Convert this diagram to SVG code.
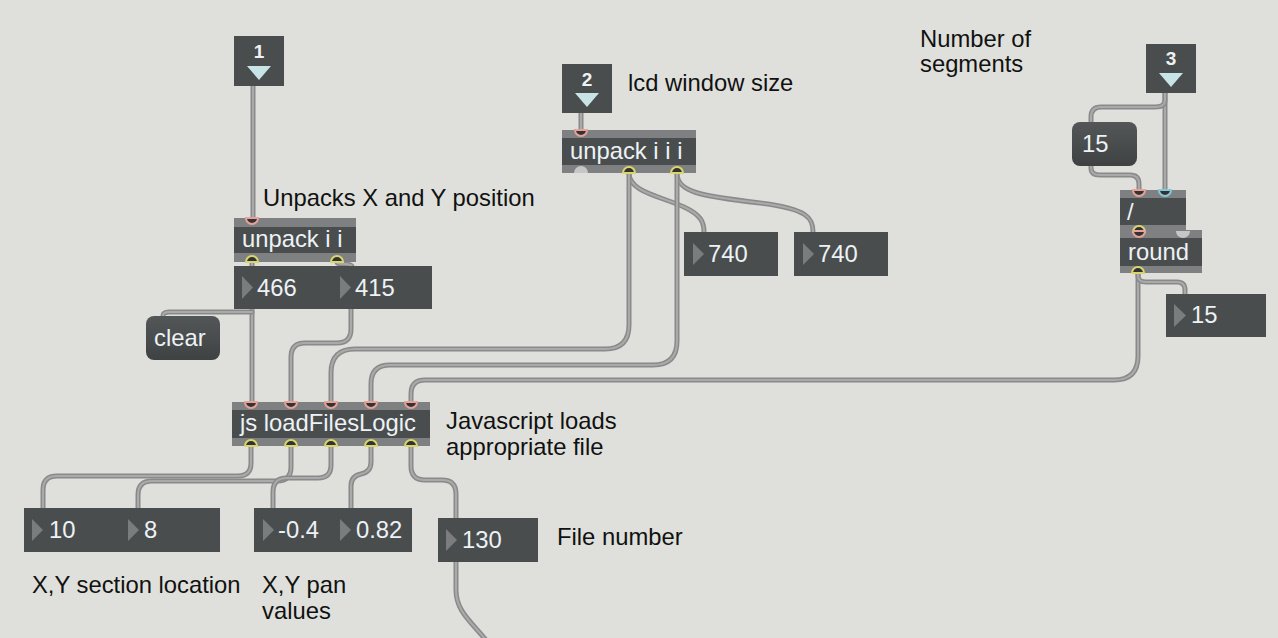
<svg xmlns="http://www.w3.org/2000/svg" xmlns:xlink="http://www.w3.org/1999/xlink" width="1278" height="638" viewBox="0 0 1278 638">
<style>
.obj{fill:#4a4d4d}
.bar{fill:#7f8082}
.msg{fill:url(#mg)}
.tri{fill:#7a7c7f}
.itri{fill:#c9e4e7}
.co{fill:none;stroke:#8a8a8a;stroke-width:5;stroke-linecap:round;stroke-linejoin:round}
.ci{fill:none;stroke:#aaaaaa;stroke-width:2;stroke-linecap:round;stroke-linejoin:round}
.lbl{font-family:"Liberation Sans",Arial,sans-serif;font-size:23.8px;fill:#111}
.w{font-family:"Liberation Sans",Arial,sans-serif;font-size:23.8px;fill:#ecf2f6}
.num{font-family:"Liberation Sans",Arial,sans-serif;font-size:19px;font-weight:bold;fill:#eef2f4;text-anchor:middle}
.hot{fill:#333;stroke:#e6a198;stroke-width:2}
.cold{fill:#333;stroke:#86c8d6;stroke-width:2}
.out{fill:#333;stroke:#d8d66c;stroke-width:2}
.free{fill:#c6c6c6}
</style>
<defs>
<linearGradient id="mg" x1="0" y1="0" x2="0" y2="1">
<stop offset="0" stop-color="#545757"/>
<stop offset="1" stop-color="#3f4242"/>
</linearGradient>
<path id="in" d="M-6,0 A6,6 0 0 0 6,0 Z"/>
<path id="ou" d="M-6,0 A6,6 0 0 1 6,0 Z"/>
<path id="c1" d="M253,86 V218"/>
<path id="c2" d="M252,262 V266"/>
<path id="c3" d="M337,262 C337,266 352,262 352,267"/>
<path id="c4" d="M252,309 V402"/>
<path id="c5" d="M252,312 H169 Q163,312 163,316"/>
<path id="c6" d="M351,309 V329 Q351,343 337,343 H305 Q291,343 291,357 V402"/>
<path id="c7" d="M581,113 V130"/>
<path id="c8" d="M629,173 C629,192 660,196 684,207 C701,215 704,222 704,232"/>
<path id="c9" d="M677,173 C677,192 700,196 760,203 C808,209 813,218 813,232"/>
<path id="c10" d="M629,173 V325 Q629,349 605,349 H355 Q331,349 331,373 V402"/>
<path id="c11" d="M677,173 V341 Q677,365 653,365 H390 Q371,365 371,384 V402"/>
<path id="c12" d="M1138,273 V356 Q1138,380 1114,380 H425 Q411,380 411,394 V402"/>
<path id="c13" d="M1138,273 V276 Q1138,282 1146,282 H1177 Q1185,282 1185,290 V294"/>
<path id="c14" d="M1165,93 V190"/>
<path id="c15" d="M1165,93 V100 Q1165,107 1155,107 H1101 Q1091,107 1091,117 V122"/>
<path id="c16" d="M1091,166 V168 Q1091,175 1100,175 H1130 Q1139,175 1139,184 V190"/>
<path id="c18" d="M251,446 V463 Q251,476 238,476 H57 Q43,476 43,490 V508"/>
<path id="c19" d="M291,446 V467 Q291,481 277,481 H152 Q138,481 138,495 V508"/>
<path id="c20" d="M331,446 V465 Q331,478 318,478 H287 Q273,478 273,492 V508"/>
<path id="c21" d="M371,446 V462 Q371,472 361,474 Q351,476 351,486 V508"/>
<path id="c22" d="M411,446 V466 Q411,480 425,480 H442 Q456,480 456,494 V518"/>
<path id="c23" d="M456,562 V590 C456,612 472,622 490,645"/>
</defs>
<rect width="1278" height="638" fill="#dfe0db"/>

<g id="connectors">
<use xlink:href="#c1" class="co"/><use xlink:href="#c1" class="ci"/>
<use xlink:href="#c2" class="co"/><use xlink:href="#c2" class="ci"/>
<use xlink:href="#c3" class="co"/><use xlink:href="#c3" class="ci"/>
<use xlink:href="#c4" class="co"/><use xlink:href="#c4" class="ci"/>
<use xlink:href="#c5" class="co"/><use xlink:href="#c5" class="ci"/>
<use xlink:href="#c6" class="co"/><use xlink:href="#c6" class="ci"/>
<use xlink:href="#c7" class="co"/><use xlink:href="#c7" class="ci"/>
<use xlink:href="#c8" class="co"/><use xlink:href="#c8" class="ci"/>
<use xlink:href="#c9" class="co"/><use xlink:href="#c9" class="ci"/>
<use xlink:href="#c10" class="co"/><use xlink:href="#c10" class="ci"/>
<use xlink:href="#c11" class="co"/><use xlink:href="#c11" class="ci"/>
<use xlink:href="#c12" class="co"/><use xlink:href="#c12" class="ci"/>
<use xlink:href="#c13" class="co"/><use xlink:href="#c13" class="ci"/>
<use xlink:href="#c14" class="co"/><use xlink:href="#c14" class="ci"/>
<use xlink:href="#c15" class="co"/><use xlink:href="#c15" class="ci"/>
<use xlink:href="#c16" class="co"/><use xlink:href="#c16" class="ci"/>
<use xlink:href="#c18" class="co"/><use xlink:href="#c18" class="ci"/>
<use xlink:href="#c19" class="co"/><use xlink:href="#c19" class="ci"/>
<use xlink:href="#c20" class="co"/><use xlink:href="#c20" class="ci"/>
<use xlink:href="#c21" class="co"/><use xlink:href="#c21" class="ci"/>
<use xlink:href="#c22" class="co"/><use xlink:href="#c22" class="ci"/>
<use xlink:href="#c23" class="co"/><use xlink:href="#c23" class="ci"/>
</g>

<g id="inlet1">
<rect class="obj" x="234" y="36" width="50" height="50"/>
<text class="num" x="259" y="58">1</text>
<polygon class="itri" points="247,66 271,66 259,80"/>
</g>
<g id="inlet2">
<rect class="obj" x="562" y="64" width="50" height="49"/>
<text class="num" x="587" y="86">2</text>
<polygon class="itri" points="575,93 599,93 587,107"/>
</g>
<g id="inlet3">
<rect class="obj" x="1146" y="44" width="50" height="49"/>
<text class="num" x="1171" y="65">3</text>
<polygon class="itri" points="1159,73 1183,73 1171,87"/>
</g>

<g id="unpack2">
<rect class="obj" x="234" y="218" width="122" height="44"/>
<rect class="bar" x="234" y="218" width="122" height="9"/>
<rect class="bar" x="234" y="253" width="122" height="9"/>
<text class="w" x="242" y="247">unpack i i</text>
<use xlink:href="#in" x="252" y="218" class="hot"/>
<use xlink:href="#ou" x="252" y="262" class="out"/>
<use xlink:href="#ou" x="337" y="262" class="out"/>
</g>

<g id="unpack3">
<rect class="obj" x="562" y="130" width="134" height="43"/>
<rect class="bar" x="562" y="130" width="134" height="8"/>
<rect class="bar" x="562" y="165" width="134" height="8"/>
<text class="w" x="570" y="159">unpack i i i</text>
<use xlink:href="#in" x="581" y="130" class="hot"/>
<path class="free" d="M574,173 A7,7 0 0 1 588,173 Z"/>
<use xlink:href="#ou" x="629" y="173" class="out"/>
<use xlink:href="#ou" x="677" y="173" class="out"/>
</g>

<g id="num466">
<rect class="obj" x="234" y="266" width="99" height="43"/>
<polygon class="tri" points="242,276 253,287.5 242,299"/>
<text class="w" x="257" y="296">466</text>
</g>
<g id="num415">
<rect class="obj" x="333" y="266" width="99" height="43"/>
<polygon class="tri" points="340,276 351,287.5 340,299"/>
<text class="w" x="355" y="296">415</text>
</g>

<g id="clear">
<rect class="msg" x="146" y="316" width="74" height="44" rx="8"/>
<text class="w" x="154" y="346">clear</text>
</g>

<g id="num740a">
<rect class="obj" x="684" y="232" width="94" height="44"/>
<polygon class="tri" points="693,243 704,254 693,265"/>
<text class="w" x="708" y="262">740</text>
</g>
<g id="num740b">
<rect class="obj" x="794" y="232" width="94" height="44"/>
<polygon class="tri" points="803,243 814,254 803,265"/>
<text class="w" x="818" y="262">740</text>
</g>

<g id="msg15">
<rect class="msg" x="1072" y="122" width="65" height="44" rx="8"/>
<text class="w" x="1082" y="152">15</text>
</g>

<g id="round">
<rect class="obj" x="1120" y="230" width="82" height="43"/>
<rect class="bar" x="1120" y="230" width="82" height="8"/>
<rect class="bar" x="1120" y="266" width="82" height="7"/>
<text class="w" x="1128" y="260">round</text>
</g>
<g id="divide">
<rect class="obj" x="1120" y="190" width="66" height="42"/>
<rect class="bar" x="1120" y="190" width="66" height="8"/>
<rect class="bar" x="1120" y="225" width="66" height="7"/>
<text class="w" x="1127" y="220">/</text>
<use xlink:href="#in" x="1139" y="190" class="hot"/>
<use xlink:href="#in" x="1165" y="190" class="cold"/>
</g>
<g id="round-ports">
<use xlink:href="#ou" x="1139" y="232" class="out"/>
<use xlink:href="#in" x="1139" y="231" class="hot"/>
<path class="free" d="M1176,231 A7,7 0 0 0 1190,231 Z"/>
<use xlink:href="#ou" x="1138" y="273" class="out"/>
</g>

<g id="num15">
<rect class="obj" x="1166" y="294" width="100" height="43"/>
<polygon class="tri" points="1174,304 1186,315.5 1174,327"/>
<text class="w" x="1191" y="323">15</text>
</g>

<g id="js">
<rect class="obj" x="232" y="402" width="198" height="44"/>
<rect class="bar" x="232" y="402" width="198" height="8"/>
<rect class="bar" x="232" y="438" width="198" height="8"/>
<text class="w" x="240" y="431">js loadFilesLogic</text>
<use xlink:href="#in" x="251" y="402" class="hot"/>
<use xlink:href="#in" x="291" y="402" class="hot"/>
<use xlink:href="#in" x="331" y="402" class="hot"/>
<use xlink:href="#in" x="371" y="402" class="hot"/>
<use xlink:href="#in" x="411" y="402" class="hot"/>
<use xlink:href="#ou" x="251" y="446" class="out"/>
<use xlink:href="#ou" x="291" y="446" class="out"/>
<use xlink:href="#ou" x="331" y="446" class="out"/>
<use xlink:href="#ou" x="371" y="446" class="out"/>
<use xlink:href="#ou" x="411" y="446" class="out"/>
</g>

<g id="num10">
<rect class="obj" x="24" y="508" width="95" height="44"/>
<polygon class="tri" points="32,519 43,530 32,541"/>
<text class="w" x="49" y="538">10</text>
</g>
<g id="num8">
<rect class="obj" x="119" y="508" width="101" height="44"/>
<polygon class="tri" points="128,519 139,530 128,541"/>
<text class="w" x="144" y="538">8</text>
</g>
<g id="numpanx">
<rect class="obj" x="254" y="508" width="77" height="44"/>
<polygon class="tri" points="263,519 274,530 263,541"/>
<text class="w" x="278" y="538">-0.4</text>
</g>
<g id="numpany">
<rect class="obj" x="331" y="508" width="81" height="44"/>
<polygon class="tri" points="340,519 351,530 340,541"/>
<text class="w" x="356" y="538">0.82</text>
</g>
<g id="num130">
<rect class="obj" x="438" y="518" width="100" height="44"/>
<polygon class="tri" points="446,529 457,540 446,551"/>
<text class="w" x="462" y="548">130</text>
</g>

<g id="comments">
<text class="lbl" x="263" y="206">Unpacks X and Y position</text>
<text class="lbl" x="628" y="91">lcd window size</text>
<text class="lbl" x="920" y="47">Number of</text>
<text class="lbl" x="920" y="72">segments</text>
<text class="lbl" x="446" y="429">Javascript loads</text>
<text class="lbl" x="446" y="455">appropriate file</text>
<text class="lbl" x="557" y="545">File number</text>
<text class="lbl" x="32" y="593">X,Y section location</text>
<text class="lbl" x="262" y="593">X,Y pan</text>
<text class="lbl" x="262" y="619">values</text>
</g>
</svg>
